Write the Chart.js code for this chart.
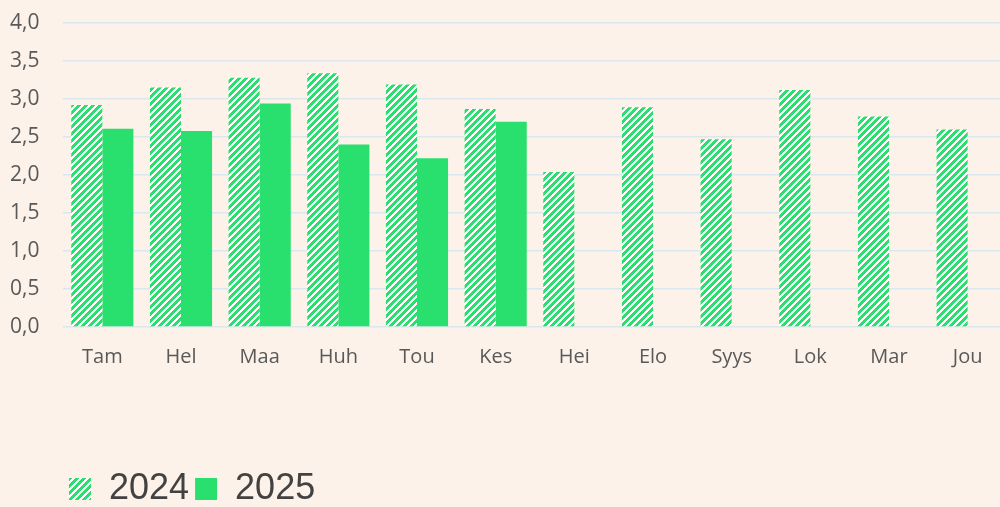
<!DOCTYPE html>
<html>
<head>
<meta charset="utf-8">
<script src="https://cdn.jsdelivr.net/npm/chart.js@4"></script>
<style>
    html, body { margin: 0; padding: 0; background: #FCF2E9; overflow: hidden; }
    #wrap { width: 1000px; height: 507px; overflow: hidden; position: relative; }
    canvas { display: block; }
</style>
</head>
<body>
<div id="wrap">
    <canvas id="monthChart" width="1008" height="517"></canvas>
</div>
<script>
// Kuukaudet ja arvot
const months = ['Tam', 'Hel', 'Maa', 'Huh', 'Tou', 'Kes', 'Hei', 'Elo', 'Syys', 'Lok', 'Mar', 'Jou'];
const values2024 = [2.92, 3.15, 3.28, 3.34, 3.19, 2.87, 2.04, 2.89, 2.47, 3.12, 2.77, 2.60];
const values2025 = [2.61, 2.58, 2.94, 2.40, 2.22, 2.70, null, null, null, null, null, null];
const seriesLabels = ['2024', '2025'];

const GREEN = '#29DF6E';

const canvas = document.getElementById('monthChart');
const ctx = canvas.getContext('2d');

// Vinoviivakuvio 2024-palkeille
function makeHatch() {
    const n = 7;
    const tile = document.createElement('canvas');
    tile.width = n; tile.height = n;
    const g = tile.getContext('2d');
    g.fillStyle = '#ffffff';
    g.fillRect(0, 0, n, n);
    g.fillStyle = GREEN;
    for (let y = 0; y < n; y++) {
        for (let x = 0; x < n; x++) {
            if ((x + y) % n < 4) g.fillRect(x, y, 1, 1);
        }
    }
    return ctx.createPattern(tile, 'repeat');
}

new Chart(ctx, {
    type: 'bar',
    data: {
        labels: months,
        datasets: [
            {
                label: seriesLabels[0],
                data: values2024,
                backgroundColor: makeHatch(),
                borderWidth: 0,
                categoryPercentage: 0.79,
                barPercentage: 1.0
            },
            {
                label: seriesLabels[1],
                data: values2025,
                backgroundColor: GREEN,
                borderWidth: 0,
                categoryPercentage: 0.79,
                barPercentage: 1.0
            }
        ]
    },
    options: {
        responsive: false,
        animation: false,
        layout: { padding: { top: 23, left: 10, right: 1, bottom: 0 } },
        plugins: {
            tooltip: { enabled: false },
            legend: {
                position: 'bottom',
                align: 'start',
                fullSize: false,
                labels: {
                    boxWidth: 22,
                    boxHeight: 22,
                    padding: 6,
                    color: '#424242',
                    font: { family: "'Liberation Sans', Arial, sans-serif", size: 36 }
                }
            }
        },
        scales: {
            x: {
                grid: { display: false },
                border: { display: false },
                ticks: {
                    color: '#595959',
                    padding: 10,
                    font: { family: "'Open Sans', sans-serif", size: 20 }
                },
                afterFit: function(scale) { scale.height = 138; }
            },
            y: {
                min: 0,
                max: 4,
                border: { display: false },
                grid: { color: '#D9E7EF', lineWidth: 1.5, drawTicks: false },
                ticks: {
                    stepSize: 0.5,
                    padding: 0,
                    crossAlign: 'far',
                    color: '#595959',
                    font: { family: "'Open Sans', sans-serif", size: 21 },
                    callback: function(v) { return v.toFixed(1).replace('.', ','); }
                },
                afterFit: function(scale) { scale.width = 53; }
            }
        }
    }
});
</script>
</body>
</html>
